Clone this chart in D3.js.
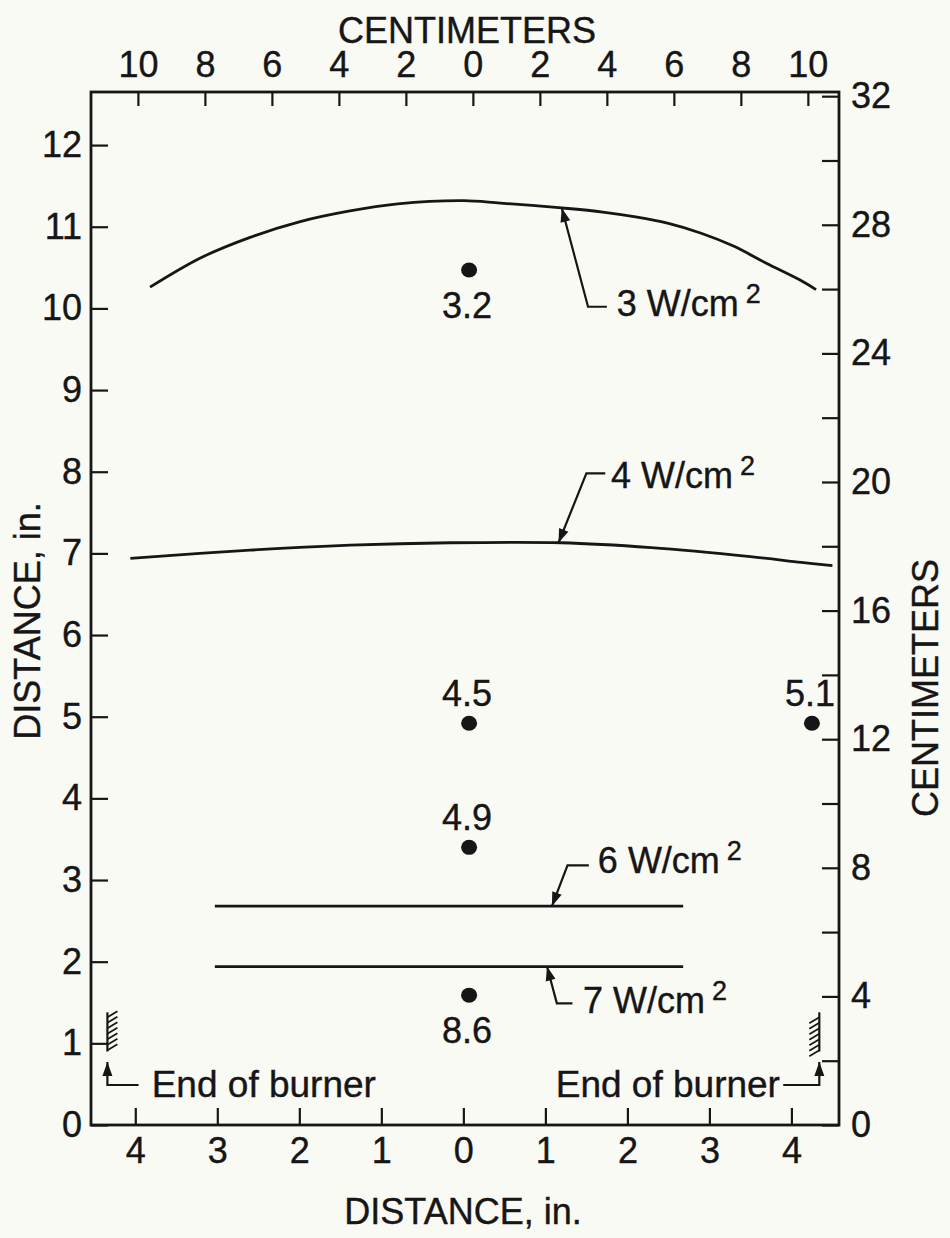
<!DOCTYPE html>
<html>
<head>
<meta charset="utf-8">
<script src="https://cdn.jsdelivr.net/npm/d3@7"></script>
<style>
  html, body { margin: 0; padding: 0; background: #fafaf5; }
  svg { display: block; }
  text { font-family: "Liberation Sans", Arial, Helvetica, sans-serif; fill: #161616;
         stroke: #161616; stroke-width: 0.4; }
  .axis text { font-size: 36px; }
  .axis line { stroke-width: 2.2; }
</style>
</head>
<body>
<svg id="chart" width="950" height="1238"></svg>
<script>
// Irradiance contours in front of the burner face (distances in inches)

// axis ticks
const xTicksIn = [-4, -3, -2, -1, 0, 1, 2, 3, 4];
const yTicksIn = [0, 1, 2, 3, 4, 5, 6, 7, 8, 9, 10, 11, 12];
const xTicksCm = [-10, -8, -6, -4, -2, 0, 2, 4, 6, 8, 10];
const yTicksCm = [0, 2, 4, 6, 8, 10, 12, 14, 16, 18, 20, 22, 24, 26, 28, 30, 32];

// 3 W/cm2 contour
const w3X = [-3.82, -3.2, -2.6, -2.0, -1.4, -0.8, 0.0, 0.45, 1.2, 1.7, 2.1, 2.5, 2.9, 3.3, 3.7, 4.1, 4.3];
const w3Y = [10.26, 10.62, 10.87, 11.06, 11.19, 11.28, 11.32, 11.29, 11.23, 11.18, 11.12, 11.04, 10.92, 10.76, 10.55, 10.35, 10.23];
// 4 W/cm2 contour
const w4X = [-4.06, -2.6, -1.38, -0.16, 1.19, 2.29, 3.5, 4.12, 4.5];
const w4Y = [6.94, 7.04, 7.10, 7.13, 7.13, 7.07, 6.96, 6.89, 6.85];
// 6 and 7 W/cm2 contours
const w6X = [-3.03, 2.68];
const w6Y = [2.68, 2.68];
const w7X = [-3.03, 2.68];
const w7Y = [1.94, 1.94];

// measured points (W/cm2)
const ptX = [0.07, 0.07, 4.25, 0.07, 0.07];
const ptY = [10.47, 4.92, 4.92, 3.40, 1.59];
const ptVal = ["3.2", "4.5", "5.1", "4.9", "8.6"];
const ptSide = ["below", "above", "above", "above", "below"];

const fluxVal = ["3", "4", "6", "7"];

const ink = "#161616";
const svg = d3.select("#chart");

const x = d3.scaleLinear().domain([-4.54, 4.58]).range([91, 839]);
const xCm = d3.scaleLinear().domain([-11.4, 10.93]).range([91, 839]);
const y = d3.scaleLinear().domain([0, 12.65]).range([1125, 92]);
const yCm = d3.scaleLinear().domain([0, 32.13]).range([1125, 92]);

function styleAxis(g) {
  g.attr("font-size", null).attr("font-family", null).attr("color", ink);
  g.select(".domain").remove();
}

svg.append("g").attr("class", "axis").attr("transform", "translate(0,1125)")
  .call(d3.axisBottom(x).tickValues(xTicksIn).tickFormat(d => Math.abs(d))
    .tickSizeInner(-17).tickSizeOuter(0).tickPadding(12))
  .call(styleAxis);

svg.append("g").attr("class", "axis").attr("transform", "translate(0,92)")
  .call(d3.axisTop(xCm).tickValues(xTicksCm).tickFormat(d => Math.abs(d))
    .tickSizeInner(-14).tickSizeOuter(0).tickPadding(15))
  .call(styleAxis);

svg.append("g").attr("class", "axis").attr("transform", "translate(91,0)")
  .call(d3.axisLeft(y).tickValues(yTicksIn).tickFormat(d3.format("d"))
    .tickSizeInner(-17).tickSizeOuter(0).tickPadding(9))
  .call(styleAxis);

svg.append("g").attr("class", "axis").attr("transform", "translate(839,0)")
  .call(d3.axisRight(yCm).tickValues(yTicksCm).tickFormat(d => d % 4 === 0 ? d : "")
    .tickSizeInner(-17).tickSizeOuter(0).tickPadding(12))
  .call(styleAxis);

// plot frame
svg.append("rect")
  .attr("x", x.range()[0]).attr("y", y.range()[1])
  .attr("width", x.range()[1] - x.range()[0])
  .attr("height", y.range()[0] - y.range()[1])
  .attr("fill", "none").attr("stroke", ink).attr("stroke-width", 2.8);

// axis titles
const title = (t, tx, ty, rot) => svg.append("text")
  .attr("transform", `translate(${tx},${ty}) rotate(${rot})`)
  .attr("text-anchor", "middle").attr("font-size", 36).text(t);
title("CENTIMETERS", 467, 43, 0);
title("DISTANCE, in.", 463, 1224, 0);
title("DISTANCE, in.", 40, 621, -90);
title("CENTIMETERS", 938, 688, -90);

// contours
const line = d3.line().x(d => x(d[0])).y(d => y(d[1]));
const contours = [
  { xs: w3X, ys: w3Y, smooth: true },
  { xs: w4X, ys: w4Y, smooth: true },
  { xs: w6X, ys: w6Y, smooth: false },
  { xs: w7X, ys: w7Y, smooth: false }
];
contours.forEach(c => {
  const pts = c.xs.map((v, i) => [v, c.ys[i]]);
  svg.append("path")
    .attr("d", line.curve(c.smooth ? d3.curveCatmullRom : d3.curveLinear)(pts))
    .attr("fill", "none").attr("stroke", ink).attr("stroke-width", 2.8);
});

// value on a contour at a given x (linear between vertices)
function contourAt(c, xv) {
  for (let i = 0; i < c.xs.length - 1; i++) {
    if (xv >= c.xs[i] && xv <= c.xs[i + 1]) {
      const t = (xv - c.xs[i]) / (c.xs[i + 1] - c.xs[i]);
      return c.ys[i] + t * (c.ys[i + 1] - c.ys[i]);
    }
  }
  return c.ys[c.ys.length - 1];
}

function arrowHead(tip, from) {
  const dx = from[0] - tip[0], dy = from[1] - tip[1];
  const len = Math.hypot(dx, dy), ux = dx / len, uy = dy / len;
  const L = 14, W = 5;
  const bx = tip[0] + ux * L, by = tip[1] + uy * L;
  const p = [[tip[0], tip[1]], [bx - uy * W, by + ux * W], [bx + uy * W, by - ux * W]];
  svg.append("path").attr("d", "M" + p.join("L") + "Z").attr("fill", ink);
}

// leader lines for the contour labels (inches): tip x, elbow, end of elbow, text start
const leaders = [
  { tipX: 1.20, elbow: [1.52, 10.02], end: [1.75, 10.02], text: [1.87, 9.91] },
  { tipX: 1.16, elbow: [1.50, 7.98], end: [1.73, 7.98], text: [1.80, 7.80] },
  { tipX: 1.08, elbow: [1.27, 3.18], end: [1.53, 3.18], text: [1.64, 3.09] },
  { tipX: 1.02, elbow: [1.14, 1.49], end: [1.33, 1.49], text: [1.46, 1.37] }
];
leaders.forEach((l, i) => {
  const tip = [x(l.tipX), y(contourAt(contours[i], l.tipX))];
  const elbow = [x(l.elbow[0]), y(l.elbow[1])];
  const end = [x(l.end[0]), y(l.end[1])];
  svg.append("path").attr("d", `M${end}L${elbow}L${tip}`)
    .attr("fill", "none").attr("stroke", ink).attr("stroke-width", 2.2);
  arrowHead(tip, elbow);
  const t = svg.append("text").attr("x", x(l.text[0])).attr("y", y(l.text[1]))
    .attr("font-size", 36).text(`${fluxVal[i]} W/cm`);
  t.append("tspan").attr("dx", 7).attr("dy", -13).attr("font-size", 27).text("2");
});

// measured points with values
ptX.forEach((v, i) => {
  const cx = x(v), cy = y(ptY[i]);
  svg.append("ellipse").attr("cx", cx).attr("cy", cy).attr("rx", 8).attr("ry", 7.5).attr("fill", ink);
  svg.append("text").attr("x", cx - 2).attr("y", ptSide[i] === "above" ? cy - 17 : cy + 48)
    .attr("text-anchor", "middle").attr("font-size", 36).text(ptVal[i]);
});

// burner ends: hatched wall with arrow and caption
function burnerEnd(xw, dir) {
  const X = x(xw), top = y(1.38), bot = y(0.90);
  svg.append("line").attr("x1", X).attr("x2", X).attr("y1", top).attr("y2", bot)
    .attr("stroke", ink).attr("stroke-width", 2.2);
  for (let k = 0; k < 7; k++) {
    const yy = top + 5 + k * 5.5;
    svg.append("line").attr("x1", X).attr("y1", yy)
      .attr("x2", X + dir * 10).attr("y2", yy - dir * 6)
      .attr("stroke", ink).attr("stroke-width", 1.8);
  }
  const tipY = y(0.77), cornerY = y(0.49);
  const endX = x(dir > 0 ? -3.96 : 3.90);
  svg.append("path").attr("d", `M${endX},${cornerY}L${X},${cornerY}L${X},${tipY}`)
    .attr("fill", "none").attr("stroke", ink).attr("stroke-width", 2.2);
  arrowHead([X, tipY], [X, cornerY]);
  svg.append("text").attr("x", x(dir > 0 ? -3.80 : 3.86)).attr("y", y(0.345))
    .attr("text-anchor", dir > 0 ? "start" : "end").attr("font-size", 37).text("End of burner");
}
burnerEnd(-4.34, 1);
burnerEnd(4.34, -1);
</script>
</body>
</html>
